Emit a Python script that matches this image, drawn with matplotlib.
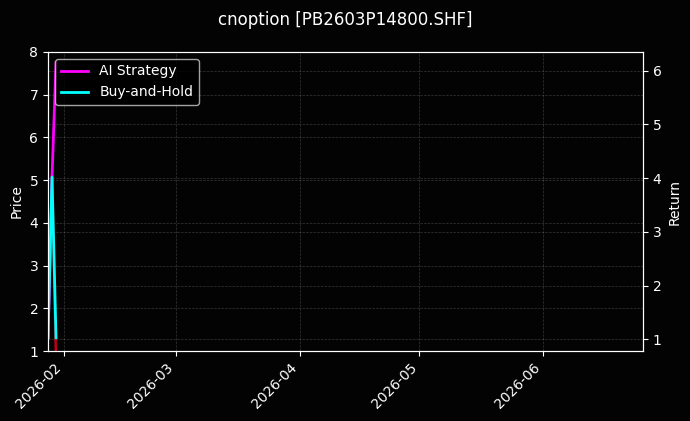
import numpy as np
import pandas as pd
import matplotlib
matplotlib.use("Agg")
import matplotlib.pyplot as plt
import matplotlib.dates as mdates

plt.style.use("dark_background")

# daily data, three trading days
dates = pd.to_datetime(["2026-01-28", "2026-01-29", "2026-01-30"])
price = [1.30, 5.12, 0.80]
ai_return = [1.03, 4.02, 6.15]
bh_return = [1.03, 4.02, 1.03]

x_start = pd.Timestamp("2026-01-28")
x_end = pd.Timestamp("2026-06-26")

fig, ax = plt.subplots(figsize=(6.9, 4.21), dpi=100)
fig.patch.set_facecolor("#030303")
ax.set_facecolor("#030303")
fig.subplots_adjust(left=0.0696, right=0.932, top=0.8765, bottom=0.166)

ax.plot(dates, price, color="#c0001a", lw=1.8)
ax.set_ylabel("Price")
ax.set_ylim(1, 8)
ax.grid(True, ls="--", lw=0.5, alpha=0.2)

ax2 = ax.twinx()
ax2.plot(dates, ai_return, color="#ff00ff", lw=2, label="AI Strategy")
ax2.plot(dates, bh_return, color="#00ffff", lw=2, label="Buy-and-Hold")
ax2.set_ylabel("Return")
ax2.set_ylim(0.78, 6.35)
ax2.grid(True, ls="--", lw=0.5, alpha=0.2)

ax.set_xlim(x_start, x_end)
ax.xaxis.set_major_locator(mdates.MonthLocator())
ax.xaxis.set_major_formatter(mdates.DateFormatter("%Y-%m"))
plt.setp(ax.get_xticklabels(), rotation=45, ha="right")

ax2.legend(loc="upper left")
fig.suptitle("cnoption [PB2603P14800.SHF]", fontsize=12, y=0.975)

fig.savefig("out.png", dpi=100, facecolor=fig.get_facecolor())
